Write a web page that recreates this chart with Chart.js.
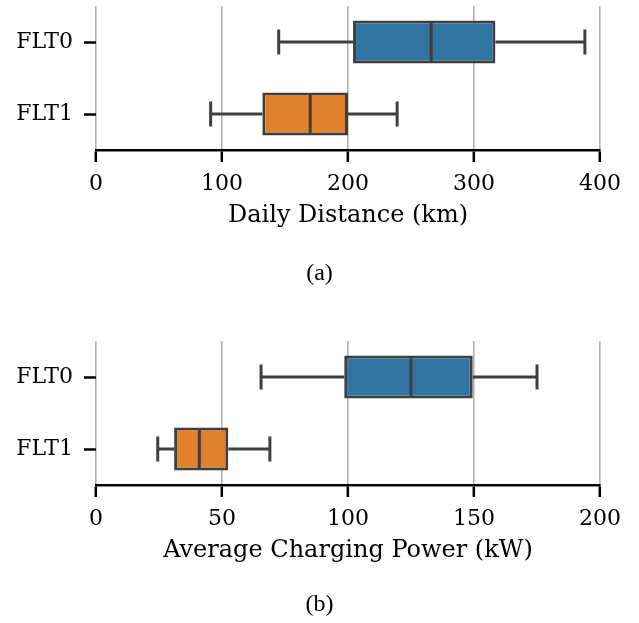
<!DOCTYPE html>
<html>
<head>
<meta charset="utf-8">
<script src="https://cdn.jsdelivr.net/npm/chart.js@4"></script>
<style>
  html, body { margin: 0; padding: 0; background: #fff; }
  #wrap { position: relative; width: 639px; height: 623px; }
  .box { position: absolute; left: 0; width: 639px; }
</style>
</head>
<body>
<div id="wrap">
  <div class="box" style="top:0;height:300px"><canvas id="distChart"></canvas></div>
  <div class="box" style="top:335px;height:288px"><canvas id="powerChart"></canvas></div>
</div>
<script>
// fleets
const categories = ["FLT0", "FLT1"];
// daily distance (km) box stats
const distMin = [145, 91];
const distQ1 = [204, 132];
const distMed = [266, 170];
const distQ3 = [317, 200];
const distMax = [388, 239];
const distTicks = [0, 100, 200, 300, 400];
// average charging power (kW) box stats
const powerMin = [65.5, 24.5];
const powerQ1 = [98.5, 31];
const powerMed = [125, 41];
const powerQ3 = [149.5, 52.5];
const powerMax = [175, 69];
const powerTicks = [0, 50, 100, 150, 200];

const boxColors = ["#3274a1", "#e1812c"];
const edge = "#3f3f3f";
const serif = "'DejaVu Serif', serif";

//draws whiskers, caps and median lines on top of the floating bars
const whiskerPlugin = {
  id: "whiskers",
  afterDatasetsDraw(chart, args, opts) {
    const ctx = chart.ctx;
    const x = chart.scales.x;
    const y = chart.scales.y;
    const meta = chart.getDatasetMeta(0);
    ctx.save();
    ctx.strokeStyle = edge;
    ctx.lineWidth = 3;
    ctx.lineCap = "butt";
    opts.med.forEach((m, i) => {
      const yc = y.getPixelForValue(i);
      const half = meta.data[i].height / 2;
      const cap = 12.5;
      const lo = x.getPixelForValue(opts.min[i]);
      const q1 = x.getPixelForValue(opts.q1[i]);
      const q3 = x.getPixelForValue(opts.q3[i]);
      const hi = x.getPixelForValue(opts.max[i]);
      const md = x.getPixelForValue(m);
      ctx.beginPath();
      ctx.moveTo(lo, yc); ctx.lineTo(q1, yc);
      ctx.moveTo(q3, yc); ctx.lineTo(hi, yc);
      ctx.moveTo(lo, yc - cap); ctx.lineTo(lo, yc + cap);
      ctx.moveTo(hi, yc - cap); ctx.lineTo(hi, yc + cap);
      ctx.moveTo(md, yc - half + 1.5); ctx.lineTo(md, yc + half - 1.5);
      ctx.stroke();
    });
    ctx.restore();
  },
};

function makeChart(id, stats, tickVals, maxVal, axisTitle, caption, pad) {
  return new Chart(document.getElementById(id), {
    type: "bar",
    plugins: [whiskerPlugin],
    data: {
      labels: categories,
      datasets: [
        {
          data: stats.q1.map((v, i) => [v, stats.q3[i]]),
          backgroundColor: boxColors,
          borderColor: edge,
          borderWidth: 3,
          borderSkipped: false,
          barPercentage: 0.6,
          categoryPercentage: 1,
        },
      ],
    },
    options: {
      indexAxis: "y",
      responsive: true,
      maintainAspectRatio: false,
      animation: false,
      layout: { padding: { top: 6, left: 0, right: 0, bottom: pad.bottom } },
      plugins: {
        legend: { display: false },
        tooltip: { enabled: false },
        title: {
          display: true,
          position: "bottom",
          text: caption,
          color: "#000",
          font: { family: "'Liberation Serif', serif", size: 24, weight: "normal" },
          padding: { top: pad.top, bottom: 0 },
        },
        whiskers: stats,
      },
      scales: {
        x: {
          type: "linear",
          min: 0,
          max: maxVal,
          afterBuildTicks: (s) => { s.ticks = tickVals.map((v) => ({ value: v })); },
          afterFit: (s) => {
            s.height = 84;
            s.paddingRight = 39;
            s.paddingLeft = 0;
          },
          border: { display: true, color: "#000", width: 2.5 },
          grid: {
            color: "#b0b0b0",
            lineWidth: 1.6,
            tickColor: "#000",
            tickWidth: 2.5,
            tickLength: 12,
          },
          ticks: { color: "#000", padding: 9, font: { family: serif, size: 22 } },
          title: {
            display: true,
            text: axisTitle,
            color: "#000",
            font: { family: serif, size: 24 },
            padding: { top: 0, bottom: 4 },
          },
        },
        y: {
          type: "category",
          offset: true,
          afterFit: (s) => {
            s.width = 96;
            s.paddingTop = 0;
            s.paddingBottom = 0;
          },
          border: { display: false },
          grid: {
            offset: false,
            drawOnChartArea: false,
            tickColor: "#000",
            tickWidth: 2.5,
            tickLength: 12,
          },
          ticks: { color: "#000", padding: 11, font: { family: serif, size: 22 } },
        },
      },
    },
  });
}

makeChart(
  "distChart",
  { min: distMin, q1: distQ1, med: distMed, q3: distQ3, max: distMax },
  distTicks, 400, "Daily Distance (km)", "(a)", { top: 25.6, bottom: 11.6 }
);
makeChart(
  "powerChart",
  { min: powerMin, q1: powerQ1, med: powerMed, q3: powerQ3, max: powerMax },
  powerTicks, 200, "Average Charging Power (kW)", "(b)", { top: 21.6, bottom: 3.6 }
);
</script>
</body>
</html>
